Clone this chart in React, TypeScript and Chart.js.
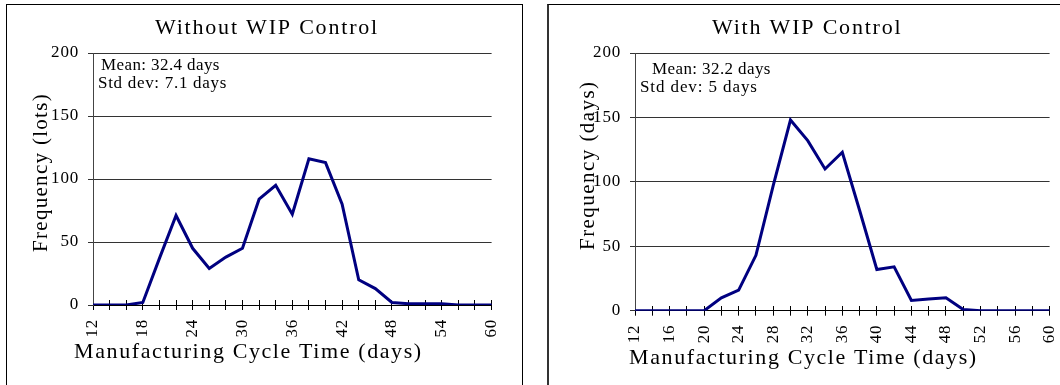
import React, { useEffect, useRef } from "react";
import { Chart, registerables } from "chart.js";

Chart.register(...registerables);

// ---- data ----
const cycleTimes = [12, 14, 16, 18, 20, 22, 24, 26, 28, 30, 32, 34, 36, 38, 40, 42, 44, 46, 48, 50, 52, 54, 56, 58, 60];
const withoutWipFreq = [0, 0, 0, 2, 37, 71, 45, 29, 38, 45, 84, 95, 72, 116, 113, 80, 20, 13, 2, 1, 1, 1, 0, 0, 0];
const withWipFreq = [0, 0, 0, 0, 0, 10, 16, 43, 97, 148, 132, 110, 123, 78, 32, 34, 8, 9, 10, 1, 0, 0, 0, 0, 0];
const yTicks = [0, 50, 100, 150, 200];
const leftXTickLabels = [12, 18, 24, 30, 36, 42, 48, 54, 60];
const rightXTickLabels = [12, 16, 20, 24, 28, 32, 36, 40, 44, 48, 52, 56, 60];

const FONT = '"Liberation Serif", "Times New Roman", serif';

type TextItem = { text: string; x: number; y: number; size: number; ls: number; rot?: boolean };

function textPlugin(items: TextItem[]) {
  return {
    id: "texts",
    beforeLayout(chart: any) {
      chart.ctx.letterSpacing = "0.8px";
    },
    beforeDraw(chart: any) {
      chart.ctx.letterSpacing = "0.8px";
    },
    afterDraw(chart: any) {
      const ctx = chart.ctx;
      items.forEach((it) => {
        ctx.save();
        ctx.font = `${it.size}px ${FONT}`;
        ctx.letterSpacing = `${it.ls}px`;
        ctx.fillStyle = "#000";
        ctx.textBaseline = "alphabetic";
        ctx.textAlign = "left";
        ctx.translate(it.x, it.y);
        if (it.rot) ctx.rotate(-Math.PI / 2);
        ctx.fillText(it.text, 0, 0);
        ctx.restore();
      });
    },
  };
}

function buildConfig(values: number[], xLabels: number[], texts: TextItem[], xAxisHeight: number, padRight: number) {
  const labels = cycleTimes.map(String);
  return {
    type: "line" as const,
    data: {
      labels,
      datasets: [
        {
          data: values,
          borderColor: "#000080",
          borderWidth: 3,
          pointRadius: 0,
          tension: 0,
          fill: false,
        },
      ],
    },
    plugins: [textPlugin(texts)],
    options: {
      animation: false as const,
      responsive: false,
      events: [],
      layout: { padding: { left: 0, right: padRight, top: 48, bottom: 0 } },
      plugins: { legend: { display: false }, tooltip: { enabled: false }, title: { display: false } },
      scales: {
        x: {
          type: "category" as const,
          labels,
          offset: false,
          grid: { drawOnChartArea: false, drawTicks: true, tickLength: 5, color: "#000", lineWidth: 1 },
          border: { display: true, color: "#000", width: 1 },
          ticks: {
            autoSkip: false,
            minRotation: 90,
            maxRotation: 90,
            padding: 9,
            color: "#000",
            font: { family: FONT, size: 17 },
            callback: (_v: any, idx: number) => (xLabels.includes(cycleTimes[idx]) ? String(cycleTimes[idx]) : ""),
          },
          afterFit: (s: any) => {
            s.height = xAxisHeight;
          },
        },
        xCross: {
          type: "category" as const,
          axis: "x" as const,
          labels,
          offset: false,
          position: { y: 0 },
          grid: { drawOnChartArea: false, drawTicks: true, tickLength: -5, color: "#000", lineWidth: 1 },
          border: { display: false },
          ticks: { display: false },
          afterFit: (s: any) => {
            s.height = 0;
          },
        },
        y: {
          min: 0,
          max: 200,
          afterBuildTicks: (s: any) => {
            s.ticks = yTicks.map((v) => ({ value: v }));
          },
          grid: { color: "#333", lineWidth: 1, drawTicks: true, tickLength: 5 },
          border: { display: true, color: "#444", width: 1 },
          ticks: { padding: 9, color: "#000", font: { family: FONT, size: 17 } },
          afterFit: (s: any) => {
            s.width = 86;
          },
        },
      },
    },
  };
}

function ChartCanvas({ config, width, height }: { config: any; width: number; height: number }) {
  const ref = useRef<HTMLCanvasElement | null>(null);
  useEffect(() => {
    if (!ref.current) return;
    const chart = new Chart(ref.current, config);
    return () => chart.destroy();
  }, [config]);
  return <canvas ref={ref} width={width} height={height} style={{ display: "block", width, height }} />;
}

const leftTexts: TextItem[] = [
  { text: "Without WIP Control", x: 148, y: 28.5, size: 22, ls: 1.8 },
  { text: "Manufacturing Cycle Time (days)", x: 67, y: 352.5, size: 22, ls: 1.6 },
  { text: "Frequency (lots)", x: 40, y: 247, size: 21, ls: 1.3, rot: true },
  { text: "Mean: 32.4 days", x: 94, y: 65, size: 17, ls: 0.4 },
  { text: "Std dev: 7.1 days", x: 91, y: 82.5, size: 17, ls: 0.7 },
];

const rightTexts: TextItem[] = [
  { text: "With WIP Control", x: 163, y: 28.5, size: 22, ls: 1.8 },
  { text: "Manufacturing Cycle Time (days)", x: 80, y: 359, size: 22, ls: 1.6 },
  { text: "Frequency (days)", x: 44.5, y: 245, size: 21, ls: 1.45, rot: true },
  { text: "Mean: 32.2 days", x: 103, y: 68.5, size: 17, ls: 0.4 },
  { text: "Std dev: 5 days", x: 91, y: 86.5, size: 17, ls: 0.9 },
];

const leftConfig = buildConfig(withoutWipFreq, leftXTickLabels, leftTexts, 80, 23.5);
const rightConfig = buildConfig(withWipFreq, rightXTickLabels, rightTexts, 74.3, 19.5);

export default function App() {
  return (
    <div style={{ position: "fixed", left: 0, top: 0, width: 1060, height: 385, overflow: "hidden", background: "#fff" }}>
      <div
        style={{
          position: "absolute",
          left: 6,
          top: 4,
          width: 517,
          height: 420,
          border: "1px solid #000",
          boxSizing: "border-box",
        }}
      >
        <ChartCanvas config={leftConfig} width={514} height={380} />
      </div>
      <div
        style={{
          position: "absolute",
          left: 547,
          top: 4,
          width: 600,
          height: 420,
          borderLeft: "2px solid #333",
          borderTop: "1px solid #000",
          boxSizing: "border-box",
        }}
      >
        <ChartCanvas config={rightConfig} width={530} height={380} />
      </div>
    </div>
  );
}
